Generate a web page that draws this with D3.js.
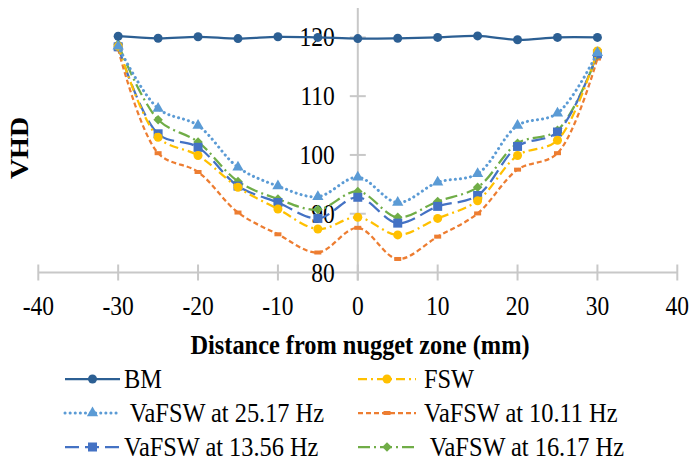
<!DOCTYPE html>
<meta charset="utf-8">
<head>
  <title>VHD profile</title>
</head>

<style>
body { margin: 0; background: white; }
.axis-line { stroke: #c8c8c8; stroke-width: 2; }
</style>

<body>
  <svg width="691" height="466"></svg>

  <script src="https://cdnjs.cloudflare.com/ajax/libs/d3/7.8.5/d3.min.js"></script>
  <script>
var distances = [-30, -25, -20, -15, -10, -5, 0, 5, 10, 15, 20, 25, 30];
var bm    = [120.2, 119.85, 120.1, 119.8, 120.1, 120.0, 119.8, 119.85, 120.0, 120.25, 119.6, 120.0, 120.0];
var fsw   = [118.5, 103.0, 99.9, 94.5, 90.8, 87.4, 89.4, 86.4, 89.2, 92.2, 99.9, 102.5, 117.7];
var va25  = [118.5, 107.9, 105.0, 97.9, 94.7, 92.9, 96.2, 91.9, 95.35, 96.8, 105.0, 107.1, 117.4];
var va10  = [118.0, 100.3, 97.1, 90.2, 86.5, 83.4, 87.6, 82.3, 86.1, 90.05, 97.5, 100.3, 116.4];
var va13  = [118.4, 103.6, 101.3, 94.7, 91.9, 89.2, 92.8, 88.4, 91.25, 93.1, 101.45, 103.9, 117.2];
var va16  = [118.85, 106.0, 102.2, 95.5, 92.5, 90.7, 93.8, 89.4, 92.1, 94.5, 102.0, 104.2, 117.0];

var xTicks = [-40, -30, -20, -10, 0, 10, 20, 30, 40];
var yTicks = [80, 90, 100, 110, 120];

var series = [
  { name: "BM", values: bm, color: "#2c5f93", dash: null, marker: "circle", col: 0, row: 0 },
  { name: "FSW", values: fsw, color: "#ffc000", dash: "9,4,2,4", marker: "circle", col: 1, row: 0 },
  { name: " VaFSW at 25.17 Hz", values: va25, color: "#5b9bd5", dash: "0.1,5", cap: "round", marker: "triangle", col: 0, row: 1 },
  { name: "VaFSW at 10.11 Hz", values: va10, color: "#ed7d31", dash: "5,3", marker: "dash", col: 1, row: 1 },
  { name: "VaFSW at 13.56 Hz", values: va13, color: "#4472c4", dash: "14,6", marker: "square", col: 0, row: 2 },
  { name: " VaFSW at 16.17 Hz", values: va16, color: "#70ad47", dash: "12,4,2,4", marker: "diamond", col: 1, row: 2 }
];

var FONT = "'Liberation Serif', 'DejaVu Serif', serif";
var svg = d3.select("svg");
var squish = 0.87;

var x = d3.scaleLinear().domain([-40, 40]).range([38.3, 677.3]);
var y = d3.scaleLinear().domain([80, 125]).range([272.5, 8]);

function addText(transform, str, size, anchor, bold) {
  return svg.append("text")
    .attr("transform", transform)
    .attr("text-anchor", anchor)
    .attr("font-family", FONT)
    .attr("font-size", size)
    .attr("font-weight", bold ? "bold" : "normal")
    .attr("fill", "black")
    .text(str);
}

// axes
svg.append("line").attr("class", "axis-line")
  .attr("x1", x(-40)).attr("x2", x(40)).attr("y1", y(80)).attr("y2", y(80));
svg.append("line").attr("class", "axis-line")
  .attr("x1", x(0)).attr("x2", x(0)).attr("y1", y(125)).attr("y2", y(80) + 8);

xTicks.forEach(function(t) {
  svg.append("line").attr("class", "axis-line")
    .attr("x1", x(t)).attr("x2", x(t)).attr("y1", y(80) - 8).attr("y2", y(80) + 8);
  addText("translate(" + x(t) + "," + (y(80) + 42) + ") scale(" + squish + ",1)", t, 27, "middle");
});

yTicks.forEach(function(t) {
  if (t > 80) {
    svg.append("line").attr("class", "axis-line")
      .attr("x1", x(0) - 8).attr("x2", x(0) + 8).attr("y1", y(t)).attr("y2", y(t));
  }
  addText("translate(" + (x(0) - 23) + "," + (y(t) + 9) + ") scale(" + squish + ",1)", t, 27, "end");
});

// axis titles
addText("translate(360,354) scale(" + squish + ",1)", "Distance from nugget zone (mm)", 28, "middle", true);
addText("translate(28,148) rotate(-90) scale(1," + squish + ")", "VHD", 28, "middle", true);

// markers
function drawMarker(g, type, color, cx, cy) {
  if (type === "circle") {
    g.append("circle").attr("cx", cx).attr("cy", cy).attr("r", 4.5).attr("fill", color);
  } else if (type === "triangle") {
    g.append("path").attr("d", d3.symbol(d3.symbolTriangle, 55)()).attr("fill", color)
      .attr("transform", "translate(" + cx + "," + cy + ")");
  } else if (type === "square") {
    g.append("rect").attr("x", cx - 4.5).attr("y", cy - 4.5).attr("width", 9).attr("height", 9).attr("fill", color);
  } else if (type === "diamond") {
    g.append("path").attr("d", d3.symbol(d3.symbolSquare, 45)()).attr("fill", color)
      .attr("transform", "translate(" + cx + "," + cy + ") rotate(45)");
  } else if (type === "dash") {
    g.append("rect").attr("x", cx - 3.5).attr("y", cy - 2).attr("width", 7).attr("height", 4).attr("fill", color);
  }
}

var line = d3.line()
  .x(function(d, i) { return x(distances[i]); })
  .y(function(d) { return y(d); })
  .curve(d3.curveCatmullRom.alpha(0.5));

// draw from back to front
var order = [3, 5, 4, 1, 2, 0];
order.forEach(function(k) {
  var s = series[k];
  var g = svg.append("g");
  g.append("path")
    .attr("d", line(s.values))
    .attr("fill", "none")
    .attr("stroke", s.color)
    .attr("stroke-width", s.cap ? 3 : 2.25)
    .attr("stroke-linecap", s.cap || "butt")
    .attr("stroke-dasharray", s.dash);
  s.values.forEach(function(v, i) {
    drawMarker(g, s.marker, s.color, x(distances[i]), y(v));
  });
});

// legend
var legRows = [379, 413, 447];
var legCols = [
  { x1: 65, x2: 120, tx: 124 },
  { x1: 358, x2: 416, tx: 424 }
];
series.forEach(function(s) {
  var c = legCols[s.col];
  var ly = legRows[s.row];
  var g = svg.append("g");
  g.append("line")
    .attr("x1", c.x1).attr("x2", c.x2).attr("y1", ly).attr("y2", ly)
    .attr("stroke", s.color)
    .attr("stroke-width", s.cap ? 3 : 2.25)
    .attr("stroke-linecap", s.cap || "butt")
    .attr("stroke-dasharray", s.dash);
  drawMarker(g, s.marker, s.color, (c.x1 + c.x2) / 2, ly);
  addText("translate(" + c.tx + "," + (ly + 9) + ") scale(" + squish + ",1)", s.name, 28, "start")
    .attr("xml:space", "preserve")
    .style("white-space", "pre");
});
  </script>
</body>
</html>
